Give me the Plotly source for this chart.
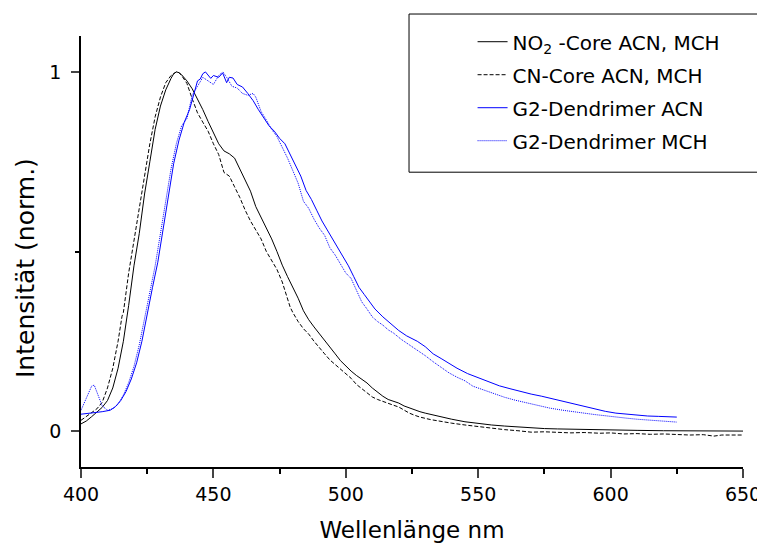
import plotly.graph_objects as go

# NO2-Core ACN, MCH (black solid)
no2_x = [400, 402, 404, 406, 408, 410, 412, 414, 416, 418, 420, 422, 424, 426, 428, 430, 432, 434, 435, 436,
         437, 438, 440, 442, 444, 446, 448, 450, 452, 454, 456, 458, 460, 462, 464, 466, 468, 470, 472, 474,
         476, 478, 480, 482, 484, 486, 488, 490, 492, 494, 496, 498, 500, 502, 504, 506, 508, 510, 512, 514,
         516, 518, 520, 522, 524, 526, 528, 530, 533, 536, 540, 545, 550, 555, 560, 565, 570, 575, 580, 585,
         590, 595, 600, 610, 620, 630, 640, 650]
no2_y = [0.02, 0.028, 0.04, 0.052, 0.066, 0.085, 0.12, 0.175, 0.25, 0.35, 0.46, 0.55, 0.66, 0.75, 0.84, 0.905,
         0.95, 0.982, 0.995, 1.0, 0.998, 0.992, 0.975, 0.953, 0.925, 0.895, 0.862, 0.83, 0.80, 0.78, 0.772,
         0.76, 0.728, 0.70, 0.668, 0.625, 0.595, 0.568, 0.535, 0.50, 0.462, 0.43, 0.40, 0.37, 0.335, 0.31,
         0.29, 0.272, 0.253, 0.235, 0.215, 0.196, 0.18, 0.167, 0.155, 0.145, 0.134, 0.12, 0.108, 0.097,
         0.088, 0.083, 0.078, 0.07, 0.064, 0.058, 0.054, 0.05, 0.045, 0.038, 0.033, 0.026, 0.021, 0.017,
         0.014, 0.011, 0.008, 0.007, 0.006, 0.005, 0.004, 0.003, 0.003, 0.002, 0.001, 0.001, 0.0, 0.0]

# CN-Core ACN, MCH (black dashed)
cn_x = [400, 402, 404, 406, 408, 410, 412, 414, 415.5, 416, 418, 420, 422, 424, 426, 428, 430, 432, 434, 436,
        437, 438, 440, 442, 444, 446, 448, 450, 452, 454, 456, 458, 460, 462, 464, 466, 468, 470, 472, 474,
        476, 478, 479, 480, 482, 484, 486, 488, 490, 492, 494, 496, 498, 500, 502, 504, 506, 508, 510, 512,
        514, 516, 518, 520, 522, 524, 526, 528, 532, 536, 540, 545, 550, 555, 560, 565, 570, 575, 580, 585,
        590, 596, 600, 605, 610, 615, 620, 625, 630, 635, 639, 642, 646, 650]
cn_y = [0.03, 0.04, 0.05, 0.062, 0.08, 0.12, 0.175, 0.25, 0.32, 0.33, 0.44, 0.53, 0.63, 0.72, 0.80, 0.875,
        0.93, 0.97, 0.99, 1.0, 0.998, 0.99, 0.968, 0.925, 0.886, 0.86, 0.835, 0.80, 0.77, 0.72, 0.71, 0.68,
        0.65, 0.615, 0.585, 0.56, 0.535, 0.50, 0.475, 0.45, 0.415, 0.37, 0.345, 0.33, 0.305, 0.285, 0.27,
        0.25, 0.234, 0.215, 0.198, 0.185, 0.172, 0.158, 0.147, 0.13, 0.118, 0.105, 0.095, 0.088, 0.082,
        0.077, 0.072, 0.067, 0.058, 0.05, 0.044, 0.039, 0.032, 0.026, 0.022, 0.017, 0.012, 0.008, 0.004,
        0.001, -0.003, -0.002, -0.004, -0.005, -0.004, -0.006, -0.005, -0.008, -0.007, -0.009, -0.008,
        -0.01, -0.011, -0.01, -0.014, -0.011, -0.012, -0.011]

# G2-Dendrimer ACN (blue solid)
acn_x = [400, 404, 408, 411, 413, 415, 417, 419, 421, 423, 425, 427, 429, 431, 433, 435, 437, 439, 441, 442,
         444, 445, 446, 447, 448, 449, 450, 452, 453.5, 455, 456, 457.4, 459, 461, 463, 465, 467, 469, 471,
         473, 475, 477, 479, 481, 483, 485, 487, 489, 491, 493, 495, 497, 499, 501, 503, 505, 507, 509, 511,
         514, 517, 520, 523, 527, 530, 533, 536, 539, 542, 546, 550, 554, 558, 562, 566, 570, 574, 578, 582,
         586, 590, 594, 598, 602, 606, 610, 614, 618, 622, 625]
acn_y = [0.047, 0.05, 0.054, 0.058, 0.068, 0.085, 0.11, 0.145, 0.19, 0.25, 0.32, 0.40, 0.47, 0.56, 0.66,
         0.745, 0.81, 0.86, 0.895, 0.92, 0.975, 0.98, 0.995, 1.0, 0.99, 0.982, 0.99, 0.985, 0.997, 0.97,
         0.985, 0.983, 0.965, 0.958, 0.94, 0.92, 0.895, 0.872, 0.85, 0.835, 0.815, 0.80, 0.77, 0.74, 0.71,
         0.67, 0.645, 0.615, 0.585, 0.56, 0.535, 0.51, 0.485, 0.46, 0.43, 0.40, 0.38, 0.36, 0.34, 0.318,
         0.30, 0.28, 0.265, 0.25, 0.235, 0.215, 0.202, 0.188, 0.175, 0.16, 0.148, 0.137, 0.126, 0.118, 0.11,
         0.103, 0.097, 0.09, 0.083, 0.074, 0.067, 0.061, 0.055, 0.05, 0.047, 0.044, 0.042, 0.041, 0.04, 0.039]

# G2-Dendrimer MCH (blue dotted)
mch_x = [400, 402, 404, 405, 406, 408, 410, 412, 414, 416, 418, 420, 422, 424, 426, 428, 430, 432, 434, 436,
         438, 440, 442, 444, 446, 448, 450, 452, 453.6, 455, 457, 459, 461, 463, 465, 466, 468, 470, 472, 474,
         476, 478, 480, 482, 484, 486, 488, 490, 492, 494, 496, 498, 500, 502, 504, 506, 508, 510, 512, 514,
         516, 518, 521, 524, 527, 530, 533, 536, 539, 542, 545, 548, 552, 556, 560, 564, 568, 572, 577, 582,
         586, 590, 594, 598, 602, 606, 610, 615, 620, 625]
mch_y = [0.058, 0.09, 0.125, 0.128, 0.11, 0.07, 0.058, 0.062, 0.075, 0.10, 0.135, 0.18, 0.24, 0.31, 0.385,
         0.46, 0.55, 0.64, 0.73, 0.80, 0.85, 0.87, 0.935, 0.96, 0.985, 0.975, 0.965, 0.99, 1.0, 0.985, 0.96,
         0.955, 0.94, 0.935, 0.94, 0.93, 0.89, 0.866, 0.84, 0.82, 0.79, 0.76, 0.725, 0.69, 0.64, 0.62, 0.59,
         0.565, 0.545, 0.51, 0.49, 0.465, 0.44, 0.425, 0.39, 0.36, 0.34, 0.318, 0.305, 0.295, 0.282, 0.273,
         0.255, 0.24, 0.226, 0.21, 0.193, 0.178, 0.162, 0.15, 0.14, 0.125, 0.114, 0.104, 0.094, 0.086, 0.079,
         0.072, 0.064, 0.058, 0.053, 0.05, 0.046, 0.042, 0.039, 0.036, 0.033, 0.031, 0.028, 0.025]

names = ["NO<sub>2</sub> -Core ACN, MCH", "CN-Core ACN, MCH", "G2-Dendrimer ACN", "G2-Dendrimer MCH"]

FONT = "DejaVu Sans, Liberation Sans, sans-serif"

fig = go.Figure()
fig.add_trace(go.Scatter(x=no2_x, y=no2_y, mode="lines", name=names[0], legendgroup="a",
                         line=dict(color="black", width=1)))
fig.add_trace(go.Scatter(x=cn_x, y=cn_y, mode="lines", name=names[1], legendgroup="b",
                         line=dict(color="black", width=1, dash="4px,2px")))
fig.add_trace(go.Scatter(x=acn_x, y=acn_y, mode="lines", name=names[2], legendgroup="c",
                         line=dict(color="#0000ff", width=1)))
fig.add_trace(go.Scatter(x=mch_x, y=mch_y, mode="lines", name=names[3], legendgroup="d",
                         line=dict(color="#0000ff", width=1, dash="1px,1px")))

# legend frame
fig.add_shape(type="rect", xref="paper", yref="paper", x0=0.4955, x1=1.03, y0=0.684, y1=1.051,
              line=dict(color="black", width=1), fillcolor="rgba(0,0,0,0)")

# y title as annotation, sits a bit below the middle of the axis in the original
fig.add_annotation(text="Intensität (norm.)", xref="paper", yref="paper", x=-0.0846, y=0.4617,
                   textangle=-90, showarrow=False, xanchor="center", yanchor="middle",
                   font=dict(size=25, family=FONT, color="black"))

# the page puts the figure 8px in from the top-left corner, so the margins are shifted by that
fig.update_layout(
    width=765, height=545, autosize=False,
    margin=dict(l=73, r=30, t=28, b=86, autoexpand=False),
    paper_bgcolor="white", plot_bgcolor="white",
    font=dict(family=FONT, color="black"),
    showlegend=True,
    legend=dict(x=0.5915, y=1.032, xanchor="left", yanchor="top", bgcolor="rgba(0,0,0,0)",
                borderwidth=0, font=dict(size=20, family=FONT), traceorder="grouped",
                tracegroupgap=4),
)
fig.update_xaxes(range=[400, 650], dtick=50, tick0=400, ticks="outside", ticklen=9, tickwidth=1.5,
                 minor=dict(dtick=25, ticks="outside", ticklen=5, tickwidth=1.5, tickcolor="black"),
                 showline=True, linecolor="black", linewidth=1.5, showgrid=False, zeroline=False,
                 automargin=False, tickfont=dict(size=19),
                 title=dict(text="Wellenlänge nm", font=dict(size=23), standoff=18))
fig.update_yaxes(range=[-0.1, 1.1], dtick=1, tick0=0, ticks="outside", ticklen=8, tickwidth=1.5,
                 minor=dict(dtick=0.5, ticks="outside", ticklen=4, tickwidth=1.5, tickcolor="black"),
                 showline=True, linecolor="black", linewidth=1.5, showgrid=False, zeroline=False,
                 automargin=False, tickfont=dict(size=19), ticklabelstandoff=6)

fig.write_html("out.html")
